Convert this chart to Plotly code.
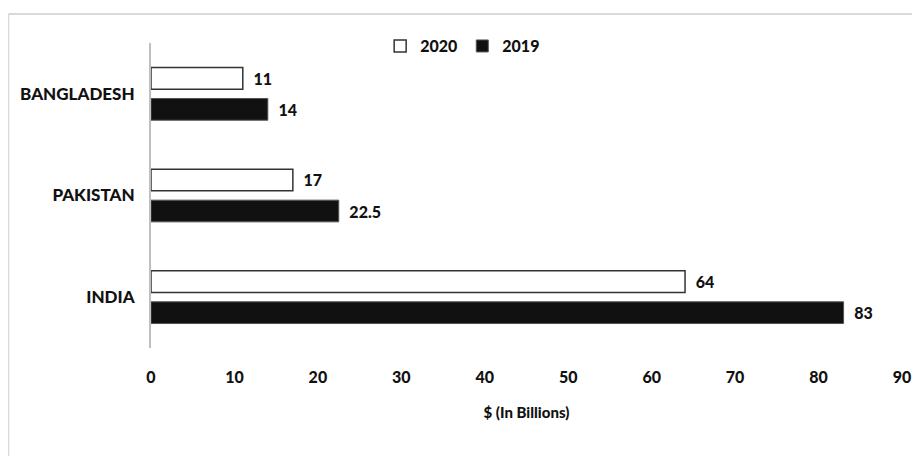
import plotly.graph_objects as go

categories = ["INDIA", "PAKISTAN", "BANGLADESH"]
values_2020 = [64, 17, 11]
values_2019 = [83, 22.5, 14]
x_ticks = [0, 10, 20, 30, 40, 50, 60, 70, 80, 90]

FONT = "Lato"
label_font = dict(family=FONT, size=16, color="#111111", weight=900)

fig = go.Figure()
fig.add_trace(go.Bar(
    name="2019", y=categories, x=values_2019, orientation="h",
    marker=dict(color="#111111", line=dict(color="#555555", width=1)),
    text=values_2019, texttemplate="\u00a0\u00a0%{x}", textposition="outside",
    textfont=label_font, cliponaxis=False,
))
fig.add_trace(go.Bar(
    name="2020", y=categories, x=values_2020, orientation="h",
    marker=dict(color="#ffffff", line=dict(color="#333333", width=1.5)),
    text=values_2020, texttemplate="\u00a0\u00a0%{x}", textposition="outside",
    textfont=label_font, cliponaxis=False,
))

fig.update_layout(
    width=904, height=448,
    paper_bgcolor="white", plot_bgcolor="white",
    margin=dict(l=143, r=10, t=35, b=108, autoexpand=False),
    barmode="group", bargap=0.39, bargroupgap=0.3,
    font=dict(family=FONT, color="#111111"),
    legend=dict(orientation="h", traceorder="reversed", x=0.415, xanchor="center",
                y=0.99, yanchor="middle", font=dict(family=FONT, size=16, weight=900),
                itemwidth=30, bgcolor="rgba(0,0,0,0)"),
    xaxis=dict(range=[0, 90], tickvals=x_ticks, showgrid=False, zeroline=False,
               showline=False, ticks="outside", ticklen=15, tickcolor="rgba(0,0,0,0)",
               automargin=False,
               tickfont=dict(family=FONT, size=16, weight=900),
               title=dict(text="$ (In Billions)", font=dict(family=FONT, size=15, weight=900),
                          standoff=22)),
    yaxis=dict(showgrid=False, zeroline=False, showline=True, linecolor="#bfbfbf",
               linewidth=2, ticks="outside", ticklen=11, tickcolor="rgba(0,0,0,0)",
               automargin=False,
               tickfont=dict(family=FONT, size=17, weight=900)),
    shapes=[
        dict(type="line", xref="paper", yref="paper", x0=-0.19, x1=1.05, y0=1.095, y1=1.095,
             line=dict(color="#d9d9d9", width=2)),
        dict(type="line", xref="paper", yref="paper", x0=-0.19, x1=-0.19, y0=-0.4, y1=1.095,
             line=dict(color="#d9d9d9", width=2)),
    ],
)

fig.write_html("out.html")
